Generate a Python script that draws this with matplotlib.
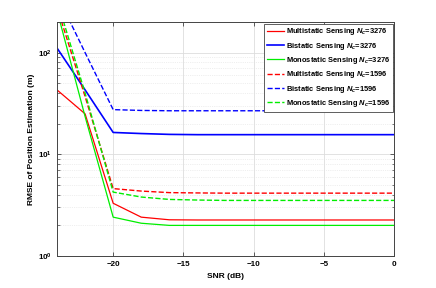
import numpy as np
import matplotlib.pyplot as plt
from matplotlib.ticker import LogLocator, NullFormatter

plt.rcParams['font.family'] = ['Liberation Sans', 'DejaVu Sans']
plt.rcParams['mathtext.fontset'] = 'custom'
plt.rcParams['mathtext.it'] = 'Liberation Sans:italic:bold'
plt.rcParams['mathtext.rm'] = 'Liberation Sans:bold'

snr = [-24, -22, -20, -18, -16, -14, -12, -10, -8, -6, -4, -2, 0]

multi_3276 = [43, 25, 3.3, 2.41, 2.27, 2.26, 2.26, 2.26, 2.26, 2.26, 2.26, 2.26, 2.26]
bi_3276 = [111, 43, 16.4, 16.0, 15.7, 15.6, 15.6, 15.6, 15.6, 15.6, 15.6, 15.6, 15.6]
mono_3276 = [260, 23.5, 2.41, 2.1, 2.0, 2.0, 2.0, 2.0, 2.0, 2.0, 2.0, 2.0, 2.0]
multi_1596 = [280, 37, 4.6, 4.35, 4.2, 4.17, 4.15, 4.15, 4.15, 4.15, 4.15, 4.15, 4.15]
bi_1596 = [370, 100, 27.5, 27.0, 26.8, 26.8, 26.8, 26.8, 26.8, 26.8, 26.8, 26.8, 26.8]
mono_1596 = [330, 40, 4.25, 3.8, 3.6, 3.55, 3.52, 3.52, 3.52, 3.52, 3.52, 3.52, 3.52]

labels = [r'Multistatic Sensing $N_c$=3276', r'Bistatic Sensing $N_c$=3276',
          r'Monostatic Sensing $N_c$=3276', r'Multistatic Sensing $N_c$=1596',
          r'Bistatic Sensing $N_c$=1596', r'Monostatic Sensing $N_c$=1596']

fig = plt.figure(figsize=(4.36, 2.88), dpi=100)
ax = fig.add_axes([57/436, 1-256/288, 337/436, 234/288])

ax.plot(snr, multi_3276, '-', color='#ff0000', lw=0.9, label=labels[0])
ax.plot(snr, bi_3276, '-', color='#0000ff', lw=1.2, label=labels[1])
ax.plot(snr, mono_3276, '-', color='#00ee00', lw=0.9, label=labels[2])
ax.plot(snr, multi_1596, '--', color='#ff0000', lw=1.0, label=labels[3])
ax.plot(snr, bi_1596, '--', color='#0000ff', lw=1.0, label=labels[4])
ax.plot(snr, mono_1596, '--', color='#00ee00', lw=1.0, label=labels[5])

ax.set_yscale('log')
ax.set_xlim(-24, 0)
ax.set_ylim(1, 200)
ax.set_xticks([-20, -15, -10, -5, 0])
ax.yaxis.set_minor_locator(LogLocator(base=10, subs=np.arange(2, 10)))
ax.yaxis.set_minor_formatter(NullFormatter())

ax.grid(True, which='major', color='#dddddd', lw=0.6)
ax.grid(True, which='minor', axis='y', color='#e0e0e0', lw=0.5, ls=':')
ax.set_axisbelow(True)

ax.tick_params(which='both', direction='in', top=True, right=True, labelsize=5.8, color='#444444')
ax.tick_params(which='major', length=3, width=0.6)
ax.tick_params(which='minor', length=1.8, width=0.5)
for lab in ax.get_xticklabels() + ax.get_yticklabels():
    lab.set_fontweight('bold')
for s in ax.spines.values():
    s.set_color('#444444')
    s.set_linewidth(0.7)

ax.set_xlabel('SNR (dB)', fontsize=6, fontweight='bold', labelpad=4)
ax.set_ylabel('RMSE of Position Estimation (m)', fontsize=6, fontweight='bold', labelpad=2)

leg = ax.legend(loc='upper right', prop={'weight': 'bold', 'size': 5.4},
                frameon=True, fancybox=False, edgecolor='#444444', framealpha=1,
                borderpad=0.35, labelspacing=0.45, handlelength=2.3, handletextpad=0.25,
                borderaxespad=0.2)
leg.get_frame().set_linewidth(0.6)

fig.savefig('out.png', dpi=100)
